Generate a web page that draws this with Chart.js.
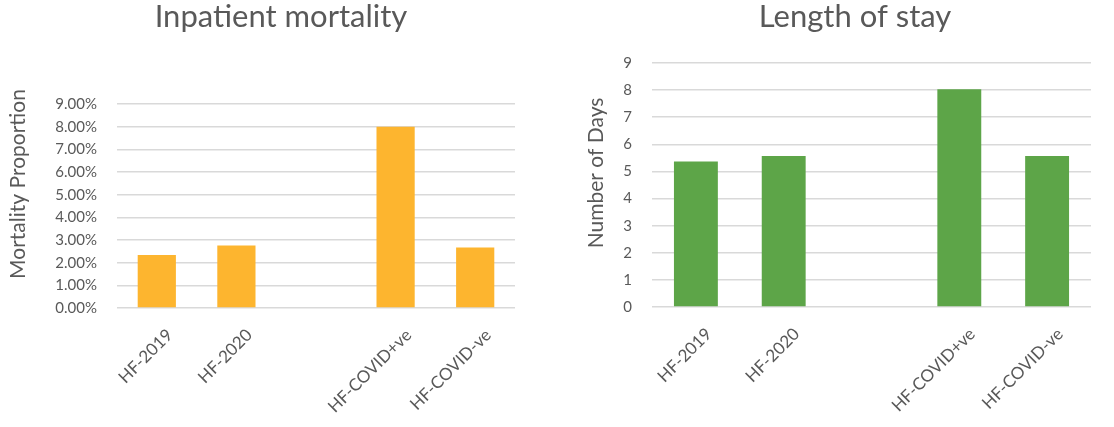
<!DOCTYPE html>
<html>
<head>
<meta charset="utf-8">
<script src="https://cdn.jsdelivr.net/npm/chart.js@4/dist/chart.umd.min.js"></script>
<style>
  html, body { margin: 0; padding: 0; background: #ffffff; }
  #wrap { position: relative; width: 1114px; height: 427px; overflow: hidden; }
  canvas { position: absolute; top: 0; }
  #mort { left: 0; }
  #stay { left: 560px; }
</style>
</head>
<body>
<div id="wrap">
  <canvas id="mort" width="560" height="427"></canvas>
  <canvas id="stay" width="554" height="427"></canvas>
</div>
<script>
// Patient groups (the blank slot separates the yearly cohorts from the COVID split)
const categories = ['HF-2019', 'HF-2020', '', 'HF-COVID+ve', 'HF-COVID-ve'];

// Inpatient mortality, in percent
const mortalityPct = [2.34, 2.76, null, 8.00, 2.67];

// Length of stay, in days
const lengthOfStayDays = [5.37, 5.57, null, 8.03, 5.57];

// Value-axis tick labels
const mortalityTickLabels = ['0.00%', '1.00%', '2.00%', '3.00%', '4.00%', '5.00%', '6.00%', '7.00%', '8.00%', '9.00%'];
const stayTickLabels = ['0', '1', '2', '3', '4', '5', '6', '7', '8', '9'];

const FONT = 'Lato, "Open Sans", sans-serif';
const TEXT_GREY = '#595959';
const GRID_GREY = '#d9d9d9';

// Draws the panel heading and the rotated value-axis title
const panelLabels = {
  id: 'panelLabels',
  afterDraw(chart, args, o) {
    const ctx = chart.ctx;
    ctx.save();
    ctx.fillStyle = TEXT_GREY;
    ctx.textAlign = 'center';
    ctx.textBaseline = 'alphabetic';
    ctx.font = `${o.titleSize}px ${FONT}`;
    ctx.fillText(o.title, o.titleX, o.titleY);
    ctx.translate(o.axisX, o.axisY);
    ctx.rotate(-Math.PI / 2);
    ctx.font = `${o.axisSize}px ${FONT}`;
    ctx.fillText(o.axisTitle, 0, 0);
    ctx.restore();
  }
};

function buildPanel(canvasId, values, color, tickLabels, cfg) {
  return new Chart(document.getElementById(canvasId), {
    type: 'bar',
    data: {
      labels: categories,
      datasets: [{
        data: values,
        backgroundColor: color,
        borderWidth: 0,
        barPercentage: cfg.barPercentage,
        categoryPercentage: 1.0
      }]
    },
    options: {
      responsive: false,
      animation: false,
      events: [],
      layout: { padding: cfg.padding },
      plugins: {
        legend: { display: false },
        tooltip: { enabled: false },
        title: { display: false },
        panelLabels: cfg.labels
      },
      scales: {
        x: {
          grid: { display: false, drawTicks: false },
          border: { display: false },
          ticks: {
            color: TEXT_GREY,
            font: { family: FONT, size: 17 },
            minRotation: 45,
            maxRotation: 45,
            autoSkip: false,
            padding: 17,
            labelOffset: 13
          },
          afterFit(scale) { scale.height = cfg.xHeight; }
        },
        y: {
          min: 0,
          max: 9,
          grid: { color: GRID_GREY, lineWidth: 1.5, drawTicks: false },
          border: { display: false },
          ticks: {
            stepSize: 1,
            color: TEXT_GREY,
            font: { family: FONT, size: 15 },
            padding: 20,
            callback: (value, index) => tickLabels[index]
          },
          afterFit(scale) { scale.width = cfg.yWidth; }
        }
      }
    },
    plugins: [panelLabels]
  });
}

buildPanel('mort', mortalityPct, '#FDB52F', mortalityTickLabels, {
  barPercentage: 0.48,
  padding: { left: 0, right: 45, top: 104, bottom: 0 },
  yWidth: 117,
  xHeight: 119,
  labels: {
    title: 'Inpatient mortality', titleSize: 31, titleX: 281, titleY: 27,
    axisTitle: 'Mortality Proportion', axisSize: 21, axisX: 25, axisY: 184
  }
});

buildPanel('stay', lengthOfStayDays, '#5DA548', stayTickLabels, {
  barPercentage: 0.5,
  padding: { left: 0, right: 23, top: 63, bottom: 0 },
  yWidth: 92,
  xHeight: 120,
  labels: {
    title: 'Length of stay', titleSize: 31, titleX: 295, titleY: 27,
    axisTitle: 'Number of Days', axisSize: 21, axisX: 43, axisY: 173
  }
});
</script>
</body>
</html>
